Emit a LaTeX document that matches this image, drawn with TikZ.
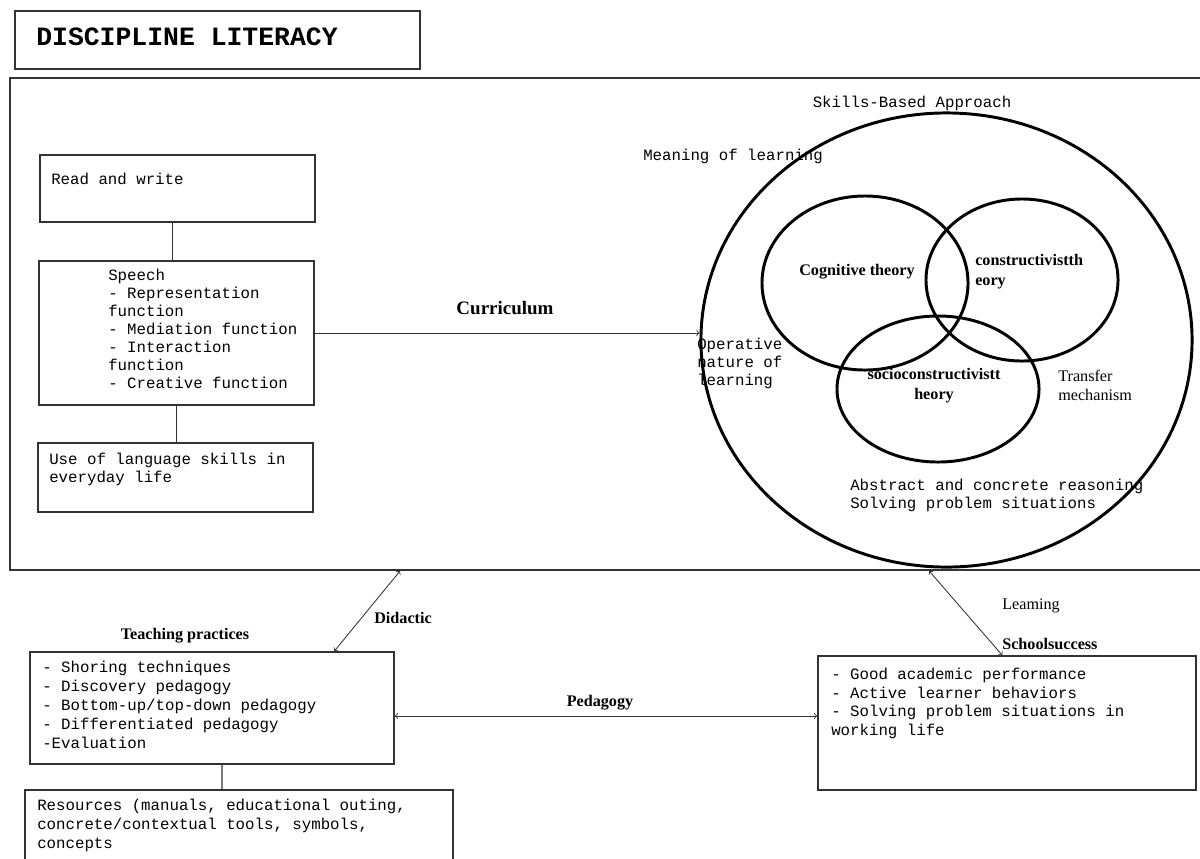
\documentclass[tikz,border=0pt]{standalone}
\usepackage{fontspec}
\setmainfont{Liberation Serif}
\setmonofont{Liberation Mono}
\usetikzlibrary{shapes.geometric}
\newcommand{\mtext}{\fontsize{11.2}{12.8}\selectfont\ttfamily}
\newcommand{\blab}{\fontsize{11.5}{14}\selectfont\bfseries}
\tikzset{
  box/.style={draw=black!80, line width=1.1pt, rectangle, inner sep=0pt},
  ring/.style={draw, ellipse, line width=2.1pt, inner sep=0pt},
  txt/.style={font=\mtext, align=left, anchor=north west, inner sep=0pt},
  lab/.style={font=\blab, inner sep=0pt},
  link/.style={draw=black!80, line width=0.8pt},
  dart/.style={draw=black!80, line width=0.6pt},
}
\begin{document}
\begin{tikzpicture}[x=0.025cm, y=-0.025cm]
  \useasboundingbox (0,0) rectangle (1200,858);
  % title and frame
  \node[box, minimum width=10.125cm, minimum height=1.45cm] (title) at (217.5,40) {};
  \node[font=\fontsize{18.8}{22}\selectfont\ttfamily\bfseries, anchor=west, inner sep=0pt] (titletext) at (36,37) {DISCIPLINE LITERACY};
  \node[box, line width=1.3pt, minimum width=30.125cm, minimum height=12.3cm] (frame) at (612.5,324) {};
  % left column
  \node[box, minimum width=6.875cm, minimum height=1.675cm] (rw) at (177.5,188.5) {};
  \node[box, minimum width=6.875cm, minimum height=3.6cm] (speech) at (176.5,333) {};
  \node[box, minimum width=6.875cm, minimum height=1.725cm] (use) at (175.5,477.5) {};
  \node[txt] (rwtext) at (51,173) {Read and write};
  \node[txt] (speechtext) at (108,269) {Speech\\- Representation\\function\\- Mediation function\\- Interaction\\function\\- Creative function};
  \node[txt] (usetext) at (49,453) {Use of language skills in\\everyday life};
  \draw[link] ([xshift=-0.125cm]rw.south) -- ([xshift=-0.125cm]rw.south |- speech.north);
  \draw[link] (speech.south) -- (speech.south |- use.north);
  % skills-based approach
  \node[ring, minimum width=12.275cm, minimum height=11.35cm] (big) at (946.5,340) {};
  \node[ring, minimum width=5.15cm, minimum height=4.35cm] (cog) at (865,283) {};
  \node[ring, minimum width=4.8cm, minimum height=4.05cm] (con) at (1022,280) {};
  \node[ring, minimum width=5.05cm, minimum height=3.65cm] (soc) at (938,389) {};
  \node[txt, anchor=center] (skills) at (912,103) {Skills-Based Approach};
  \node[txt] (meaning) at (643,149) {Meaning of learning};
  \node[txt] (operative) at (697,338) {Operative\\nature of\\learning};
  \node[txt] (abstract) at (850,479) {Abstract and concrete reasoning\\Solving problem situations};
  \node[lab] (cogtext) at (857,272) {Cognitive theory};
  \node[lab, align=left, anchor=north west, font=\fontsize{11.5}{14.2}\selectfont\bfseries] (context) at (975,254) {constructivistth\\eory};
  \node[lab, align=center, anchor=north, font=\fontsize{11.5}{14.2}\selectfont\bfseries] (soctext) at (934,368) {socioconstructivistt\\heory};
  \node[lab, align=left, anchor=north west, font=\fontsize{11.5}{13.5}\selectfont] (transfer) at (1058,370) {Transfer\\mechanism};
  \draw[dart, ->] (speech.east) -- (speech.east -| big.west);
  \node[lab, font=\fontsize{13.5}{16}\selectfont\bfseries] (curric) at (505,308) {Curriculum};
  % bottom part
  \node[box, minimum width=9.1cm, minimum height=2.8cm] (teach) at (212,708) {};
  \node[box, minimum width=10.7cm, minimum height=2cm] (res) at (239,830) {};
  \node[box, minimum width=9.45cm, minimum height=3.35cm] (result) at (1007,723) {};
  \node[lab] (teachlab) at (185,636) {Teaching practices};
  \node[txt, font=\fontsize{11.2}{13.5}\selectfont\ttfamily] (teachtext) at (42,661) {- Shoring techniques\\- Discovery pedagogy\\- Bottom-up/top-down pedagogy\\- Differentiated pedagogy\\-Evaluation};
  \node[txt, font=\fontsize{11.2}{13.5}\selectfont\ttfamily] (restext) at (37,799) {Resources (manuals, educational outing,\\concrete/contextual tools, symbols,\\concepts};
  \node[txt, font=\fontsize{11.2}{13.2}\selectfont\ttfamily] (resulttext) at (831,668) {- Good academic performance\\- Active learner behaviors\\- Solving problem situations in\\working life};
  \draw[link] ([xshift=0.25cm]teach.south) -- ([xshift=-0.425cm]res.north);
  \draw[dart, <->] ([xshift=9.775cm]frame.south west) -- ([xshift=7.625cm]teach.north west);
  \node[lab, anchor=west] (didactic) at (374,618) {Didactic};
  \draw[dart, <->] ([yshift=-0.2cm]teach.east) -- ([yshift=-0.2cm]teach.east -| result.west);
  \node[lab] (pedagogy) at (600,703) {Pedagogy};
  \draw[dart, <->] ([xshift=23cm]frame.south west) -- ([xshift=4.625cm]result.north west);
  \node[lab, anchor=west, font=\fontsize{11.5}{14}\selectfont] (learning) at (1002,606) {Leaming};
  \node[lab, anchor=west] (success) at (1002,644) {Schoolsuccess};
\end{tikzpicture}
\end{document}
